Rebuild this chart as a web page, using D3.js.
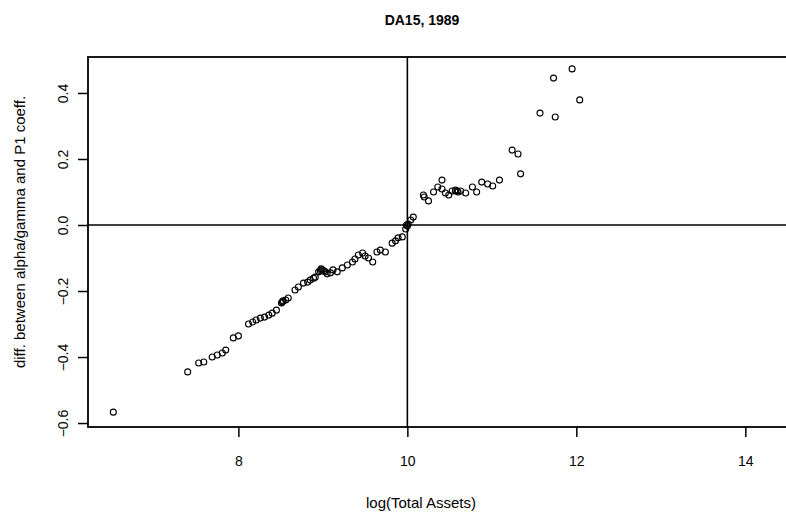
<!DOCTYPE html>
<html>
<head>
<meta charset="utf-8">
<script src="https://cdn.jsdelivr.net/npm/d3@7"></script>
<style>
  body { margin: 0; background: #fff; }
  svg { display: block; font-family: "Liberation Sans", Arial, sans-serif; }
</style>
</head>
<body>
<svg id="chart" width="786" height="515"></svg>
<script>
// log(Total Assets) values
const logAssets = [
  6.52, 7.40, 7.53, 7.59, 7.69, 7.75, 7.81, 7.85, 7.94, 8.00,
  8.12, 8.17, 8.21, 8.26, 8.31, 8.36, 8.40, 8.45, 8.51, 8.52,
  8.53, 8.56, 8.59, 8.67, 8.71, 8.77, 8.82, 8.85, 8.89, 8.91,
  8.95, 8.97, 8.98, 8.99, 9.01, 9.03, 9.05, 9.09, 9.12, 9.17,
  9.23, 9.29, 9.35, 9.38, 9.42, 9.47, 9.50, 9.54, 9.59, 9.64,
  9.68, 9.74, 9.82, 9.86, 9.89, 9.94, 9.98, 9.99, 10.00, 10.01,
  10.04, 10.07, 10.19, 10.20, 10.25, 10.31, 10.36, 10.41, 10.41, 10.45,
  10.49, 10.53, 10.57, 10.57, 10.59, 10.60, 10.63, 10.69, 10.77, 10.82,
  10.88, 10.95, 11.01, 11.09, 11.24, 11.31, 11.34, 11.57, 11.73, 11.75,
  11.95, 12.04
]
// difference between alpha/gamma and P1 coefficient
const coefDiff = [
  -0.567, -0.445, -0.418, -0.415, -0.400, -0.394, -0.388, -0.379, -0.342, -0.336,
  -0.300, -0.294, -0.288, -0.282, -0.279, -0.273, -0.267, -0.258, -0.236, -0.233,
  -0.230, -0.227, -0.221, -0.197, -0.188, -0.176, -0.173, -0.167, -0.161, -0.158,
  -0.142, -0.139, -0.133, -0.136, -0.139, -0.142, -0.148, -0.145, -0.136, -0.142,
  -0.130, -0.121, -0.112, -0.103, -0.091, -0.085, -0.094, -0.100, -0.112, -0.082,
  -0.076, -0.082, -0.055, -0.048, -0.039, -0.036, -0.012, 0.000, -0.003, 0.003,
  0.015, 0.024, 0.091, 0.085, 0.073, 0.100, 0.115, 0.136, 0.109, 0.097,
  0.091, 0.103, 0.103, 0.106, 0.103, 0.100, 0.103, 0.097, 0.115, 0.100,
  0.130, 0.124, 0.118, 0.136, 0.227, 0.215, 0.155, 0.339, 0.445, 0.327,
  0.473, 0.379
]

const xTicks = [8, 10, 12, 14]
const yTicks = [-0.6, -0.4, -0.2, 0.0, 0.2, 0.4]
const refX = 10
const refY = 0

const chartTitle = "DA15, 1989"
const xLabel = "log(Total Assets)"
const yLabel = "diff. between alpha/gamma and P1 coeff."

const svg = d3.select("#chart")

// plot region (right side runs past the picture edge)
const plotLeft = 88, plotRight = 796, plotTop = 57, plotBottom = 427

const x = d3.scaleLinear().domain([6.22, 14.6]).range([plotLeft, plotRight])
const y = d3.scaleLinear().domain([-0.612, 0.509]).range([plotBottom, plotTop])

const points = logAssets.map((v, i) => ({ x: v, y: coefDiff[i] }))

// axes
const xAxis = svg.append("g")
  .attr("transform", `translate(0,${plotBottom})`)
  .call(d3.axisBottom(x).tickValues(xTicks).tickSize(10).tickPadding(24).tickFormat(d3.format("d")))
xAxis.select(".domain").remove()

const yAxis = svg.append("g")
  .attr("transform", `translate(${plotLeft},0)`)
  .call(d3.axisLeft(y).tickValues(yTicks).tickSize(10).tickFormat(d3.format(".1f")))
yAxis.select(".domain").remove()

svg.selectAll(".tick line").attr("stroke", "#000").attr("stroke-width", 1.5)
svg.selectAll(".tick text").attr("fill", "#000").style("font-size", "14px")

xAxis.selectAll(".tick text").attr("dy", "0.35em")
// R-style y labels, parallel to the axis
yAxis.selectAll(".tick text")
  .attr("text-anchor", "middle")
  .attr("x", 0)
  .attr("y", 0)
  .attr("dy", null)
  .attr("transform", "translate(-20,0) rotate(-90)")

// reference lines
svg.append("line")
  .attr("x1", plotLeft).attr("x2", plotRight)
  .attr("y1", y(refY)).attr("y2", y(refY))
  .attr("stroke", "#000").attr("stroke-width", 1.6)
svg.append("line")
  .attr("x1", x(refX)).attr("x2", x(refX))
  .attr("y1", plotTop).attr("y2", plotBottom)
  .attr("stroke", "#000").attr("stroke-width", 1.6)

// box
svg.append("rect")
  .attr("x", plotLeft).attr("y", plotTop)
  .attr("width", plotRight - plotLeft).attr("height", plotBottom - plotTop)
  .attr("fill", "none").attr("stroke", "#000").attr("stroke-width", 1.8)

// points
svg.append("g")
  .selectAll("circle")
  .data(points)
  .join("circle")
  .attr("cx", d => x(d.x))
  .attr("cy", d => y(d.y))
  .attr("r", 3)
  .attr("fill", "none")
  .attr("stroke", "#000")
  .attr("stroke-width", 1.1)

// titles
svg.append("text")
  .attr("x", 422).attr("y", 25)
  .attr("text-anchor", "middle")
  .style("font-size", "14px").style("font-weight", "bold")
  .text(chartTitle)

svg.append("text")
  .attr("x", 421).attr("y", 508)
  .attr("text-anchor", "middle")
  .style("font-size", "15px")
  .text(xLabel)

svg.append("text")
  .attr("transform", `translate(25,232) rotate(-90)`)
  .attr("text-anchor", "middle")
  .style("font-size", "15px")
  .text(yLabel)
</script>
</body>
</html>
